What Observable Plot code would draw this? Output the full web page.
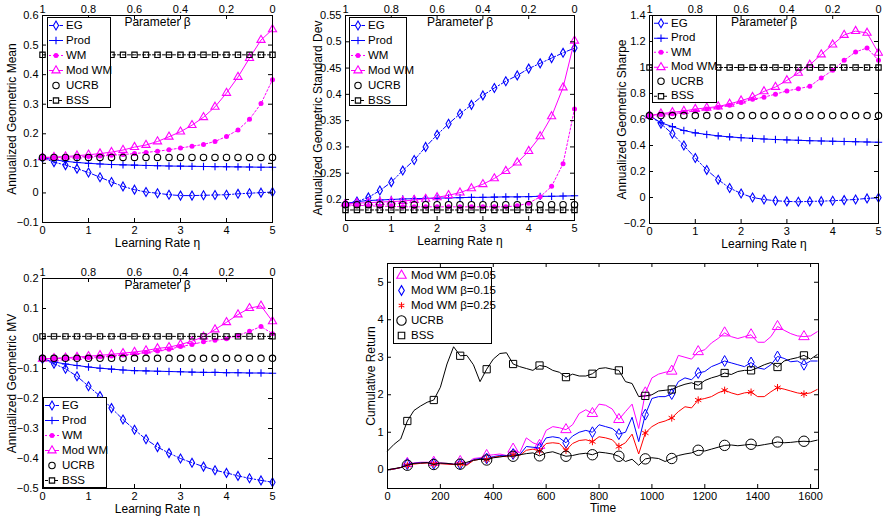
<!DOCTYPE html>
<html><head><meta charset="utf-8">
<script src="https://cdn.jsdelivr.net/npm/d3@7"></script>
<script src="https://cdn.jsdelivr.net/npm/@observablehq/plot@0.6"></script>
<style>
body{margin:0;background:#fff;font-family:"Liberation Sans",Arial,Helvetica,sans-serif;}
#root{position:relative;width:883px;height:517px;overflow:hidden;background:#fff;}
.panel{position:absolute;}
.legend{position:absolute;background:#fff;border:1px solid #000;box-sizing:border-box;font-size:11.5px;color:#000;line-height:1;}
.legend .row{display:flex;align-items:center;white-space:nowrap;}
.legend svg{flex:none;}
</style></head><body><div id="root"></div>
<script>
// ---------- data ----------
const eta = [0,0.25,0.5,0.75,1,1.25,1.5,1.75,2,2.25,2.5,2.75,3,3.25,3.5,3.75,4,4.25,4.5,4.75,5];
const etaTicks = [0,1,2,3,4,5];

// Annualized Geometric Mean
const meanEG    = [0.119,0.104,0.094,0.082,0.069,0.053,0.037,0.022,0.011,0.003,-0.001,-0.006,-0.009,-0.009,-0.008,-0.007,-0.006,-0.003,-0.001,0.001,0.003];
const meanProd  = [0.119,0.112,0.107,0.103,0.100,0.098,0.096,0.095,0.094,0.093,0.092,0.091,0.0905,0.090,0.0895,0.089,0.0885,0.088,0.0875,0.087,0.087];
const meanWM    = [0.12,0.12,0.121,0.122,0.123,0.125,0.127,0.13,0.133,0.137,0.141,0.146,0.152,0.158,0.164,0.174,0.191,0.213,0.249,0.302,0.383];
const meanModWM = [0.12,0.121,0.123,0.126,0.129,0.133,0.138,0.145,0.155,0.162,0.174,0.19,0.207,0.229,0.256,0.291,0.338,0.392,0.456,0.517,0.553];
const meanUCRB  = [0.12,0.12,0.12,0.12,0.12,0.12,0.12,0.12,0.12,0.12,0.12,0.12,0.12,0.12,0.12,0.12,0.12,0.12,0.12,0.12,0.12];
const meanBSS   = [0.467,0.467,0.467,0.467,0.467,0.467,0.467,0.467,0.467,0.467,0.467,0.467,0.467,0.467,0.467,0.467,0.467,0.467,0.467,0.467,0.467];
const meanTicks = [-0.1,0,0.1,0.2,0.3,0.4,0.5,0.6];

// Annualized Geometric Standard Dev
const sdEG    = [0.192,0.196,0.204,0.217,0.233,0.255,0.275,0.30,0.323,0.344,0.363,0.38,0.398,0.412,0.425,0.436,0.449,0.459,0.469,0.479,0.488];
const sdProd  = [0.192,0.196,0.198,0.199,0.200,0.201,0.2015,0.202,0.2025,0.203,0.2035,0.204,0.204,0.2045,0.205,0.205,0.2055,0.206,0.206,0.2065,0.207];
const sdWM    = [0.19,0.189,0.188,0.187,0.187,0.186,0.186,0.186,0.186,0.186,0.186,0.186,0.186,0.186,0.186,0.188,0.193,0.205,0.225,0.268,0.372];
const sdModWM = [0.192,0.193,0.194,0.195,0.196,0.197,0.199,0.201,0.204,0.208,0.213,0.221,0.229,0.24,0.254,0.27,0.292,0.32,0.358,0.413,0.502];
const sdUCRB  = [0.19,0.19,0.19,0.19,0.19,0.19,0.19,0.19,0.19,0.19,0.19,0.19,0.19,0.19,0.19,0.19,0.19,0.19,0.19,0.19,0.19];
const sdBSS   = [0.18,0.18,0.18,0.18,0.18,0.18,0.18,0.18,0.18,0.18,0.18,0.18,0.18,0.18,0.18,0.18,0.18,0.18,0.18,0.18,0.18];
const sdTicks = [0.2,0.25,0.3,0.35,0.4,0.45,0.5,0.55];

// Annualized Geometric Sharpe
const shEG    = [0.63,0.567,0.49,0.40,0.304,0.212,0.137,0.073,0.031,0.0,-0.015,-0.025,-0.03,-0.033,-0.03,-0.028,-0.025,-0.02,-0.015,-0.007,-0.002];
const shProd  = [0.63,0.575,0.545,0.515,0.497,0.485,0.474,0.466,0.46,0.455,0.45,0.446,0.443,0.44,0.437,0.435,0.433,0.431,0.429,0.427,0.425];
const shWM    = [0.63,0.64,0.645,0.655,0.665,0.68,0.695,0.71,0.731,0.755,0.772,0.795,0.82,0.837,0.855,0.92,0.978,1.055,1.12,1.15,1.055];
const shModWM = [0.63,0.645,0.655,0.665,0.68,0.69,0.70,0.72,0.745,0.772,0.816,0.85,0.901,0.958,1.02,1.10,1.176,1.25,1.28,1.266,1.112];
const shUCRB  = [0.63,0.63,0.63,0.63,0.63,0.63,0.63,0.63,0.63,0.63,0.63,0.63,0.63,0.63,0.63,0.63,0.63,0.63,0.63,0.63,0.63];
const shBSS   = [1.0,1.0,1.0,1.0,1.0,1.0,1.0,1.0,1.0,1.0,1.0,1.0,1.0,1.0,1.0,1.0,1.0,1.0,1.0,1.0,1.0];
const shTicks = [-0.2,0,0.2,0.4,0.6,0.8,1,1.2,1.4];

// Annualized Geometric MV
const mvEG    = [-0.068,-0.084,-0.101,-0.126,-0.159,-0.192,-0.232,-0.27,-0.304,-0.336,-0.362,-0.382,-0.4,-0.414,-0.427,-0.439,-0.448,-0.458,-0.466,-0.473,-0.479];
const mvProd  = [-0.068,-0.078,-0.085,-0.09,-0.095,-0.099,-0.102,-0.105,-0.107,-0.108,-0.109,-0.11,-0.111,-0.112,-0.113,-0.113,-0.114,-0.114,-0.115,-0.115,-0.116];
const mvWM    = [-0.068,-0.067,-0.066,-0.065,-0.063,-0.061,-0.058,-0.055,-0.052,-0.047,-0.042,-0.036,-0.027,-0.02,-0.011,-0.006,-0.001,0.01,0.024,0.04,0.016];
const mvModWM = [-0.068,-0.066,-0.064,-0.062,-0.059,-0.056,-0.053,-0.049,-0.045,-0.04,-0.033,-0.029,-0.02,-0.009,0.006,0.03,0.054,0.08,0.101,0.109,0.057];
const mvUCRB  = [-0.066,-0.066,-0.066,-0.066,-0.066,-0.066,-0.066,-0.066,-0.066,-0.066,-0.066,-0.066,-0.066,-0.066,-0.066,-0.066,-0.066,-0.066,-0.066,-0.066,-0.066];
const mvBSS   = [0.007,0.007,0.007,0.007,0.007,0.007,0.007,0.007,0.007,0.007,0.007,0.007,0.007,0.007,0.007,0.007,0.007,0.007,0.007,0.007,0.007];
const mvTicks = [-0.5,-0.4,-0.3,-0.2,-0.1,0,0.1,0.2];

// Cumulative return over time
const time = [0,25,50,75,100,125,150,175,200,225,250,275,300,325,350,375,400,425,450,475,500,525,550,575,600,625,650,675,700,725,750,775,800,825,850,875,900,925,950,975,1000,1025,1050,1075,1100,1125,1150,1175,1200,1225,1250,1275,1300,1325,1350,1375,1400,1425,1450,1475,1500,1525,1550,1575,1600,1625];
const crMod05 = [0,0.02,0.06,0.17,0.18,0.2,0.2,0.2,0.18,0.17,0.15,0.22,0.17,0.3,0.32,0.38,0.4,0.42,0.38,0.55,0.45,0.85,0.72,0.65,1.05,1.15,1.12,1.07,1.2,1.5,1.6,1.5,1.75,1.72,1.62,1.34,1.55,1.75,1.1,2.05,2.45,2.55,2.6,2.63,3.05,3.0,2.95,3.15,3.2,3.38,3.5,3.65,3.55,3.5,3.55,3.6,3.4,3.4,3.55,3.82,3.72,3.63,3.57,3.55,3.57,3.68];
const crMod15 = [0,0.02,0.06,0.15,0.17,0.18,0.19,0.16,0.17,0.16,0.14,0.15,0.14,0.27,0.3,0.3,0.35,0.38,0.37,0.42,0.4,0.62,0.6,0.58,0.85,0.88,0.85,0.72,0.9,1.0,1.05,1.0,1.2,1.15,1.1,0.95,1.0,1.4,0.75,1.47,1.9,1.95,1.95,2.02,2.35,2.45,2.4,2.58,2.62,2.75,2.82,2.9,2.85,2.8,2.75,2.86,2.72,2.68,2.8,3.02,2.97,2.88,2.9,2.8,2.9,2.9];
const crMod25 = [0,0.02,0.06,0.12,0.15,0.17,0.18,0.15,0.16,0.15,0.14,0.15,0.12,0.25,0.28,0.27,0.33,0.36,0.35,0.4,0.38,0.52,0.55,0.5,0.7,0.72,0.7,0.52,0.7,0.78,0.8,0.75,0.88,0.85,0.8,0.62,0.72,0.95,0.42,0.98,1.15,1.25,1.3,1.38,1.55,1.68,1.65,1.86,1.9,1.95,2.05,2.12,2.05,2.0,2.05,2.07,1.95,1.95,2.08,2.19,2.15,2.1,2.05,2.02,2.05,2.14];
const crUCRB  = [0,0.03,0.06,0.12,0.17,0.18,0.19,0.14,0.18,0.17,0.15,0.15,0.2,0.25,0.28,0.26,0.32,0.34,0.37,0.36,0.4,0.43,0.45,0.37,0.45,0.48,0.42,0.36,0.38,0.42,0.44,0.4,0.47,0.45,0.42,0.36,0.22,0.28,0.12,0.29,0.32,0.3,0.22,0.3,0.38,0.42,0.45,0.52,0.5,0.55,0.6,0.65,0.66,0.64,0.66,0.68,0.64,0.67,0.7,0.74,0.72,0.73,0.75,0.76,0.75,0.79];
const crBSS   = [0.5,0.68,0.82,1.3,1.58,1.7,1.8,1.86,2.2,2.82,3.28,3.04,3.05,2.8,2.35,2.68,2.95,3.1,3.12,2.82,2.75,2.7,2.65,2.78,2.75,2.65,2.6,2.47,2.55,2.5,2.5,2.56,2.7,2.72,2.68,2.65,2.35,2.3,1.95,1.97,2.0,2.1,2.12,2.14,2.22,2.28,2.32,2.25,2.38,2.45,2.5,2.58,2.54,2.62,2.65,2.65,2.72,2.8,2.86,2.74,2.9,2.95,2.99,3.05,2.95,3.07];
const crXTicks = [0,200,400,600,800,1000,1200,1400,1600];
const crYTicks = [0,1,2,3,4,5];

// ---------- helpers ----------
const BLUE = "#0000ff", MAG = "#ff00ff", RED = "#ff0000", BLK = "#000000";
const FONT = '"Liberation Sans", Arial, Helvetica, sans-serif';
const fmt = d => String(Math.round(d * 1000) / 1000).replace("-", "\u2212");
const rowsOf = (xs, vs) => xs.map((x, i) => ({x, v: vs[i]}));

const etaSeries = [
  {name: "EG", color: BLUE, dash: "5,2,1.5,2", line: true, symbol: "diamond", r: 2.7, fill: "none"},
  {name: "Prod", color: BLUE, dash: null, line: true, symbol: "plus", r: 2.5, fill: "none"},
  {name: "WM", color: MAG, dash: "2,2", line: true, symbol: "circle", r: 2.5, fill: MAG},
  {name: "Mod WM", color: MAG, dash: null, line: true, symbol: "triangle2", r: 3.9, fill: "none"},
  {name: "UCRB", color: BLK, dash: null, line: false, symbol: "circle", r: 3.2, fill: "none"},
  {name: "BSS", color: BLK, dash: "3,2", line: true, symbol: "square2", r: 3.4, fill: "none"}
];

function seriesMarks(xs, arrays, defs) {
  const marks = [];
  defs.forEach((s, k) => {
    const rows = rowsOf(xs, arrays[k]);
    if (s.line) marks.push(Plot.line(rows, {x: "x", y: "v", stroke: s.color, strokeWidth: 1, strokeDasharray: s.dash || undefined}));
    marks.push(Plot.dot(rows, {x: "x", y: "v", symbol: s.symbol, r: s.r, stroke: s.fill === "none" ? s.color : "none", fill: s.fill, strokeWidth: 1.1}));
  });
  return marks;
}

function mkPanel(cfg) {
  const fw = cfg.width - cfg.ml - cfg.mr, fh = cfg.height - cfg.mt - cfg.mb, tk = 4;
  const marks = [...cfg.marks,
    Plot.ruleX(cfg.xTicks, {x: d => d, insetTop: fh - tk, stroke: BLK}),
    Plot.ruleX(cfg.xTicks, {x: d => d, insetBottom: fh - tk, stroke: BLK}),
    Plot.ruleY(cfg.yTicks, {y: d => d, insetRight: fw - tk, stroke: BLK}),
    Plot.ruleY(cfg.yTicks, {y: d => d, insetLeft: fw - tk, stroke: BLK}),
    Plot.frame({stroke: BLK, strokeWidth: 1}),
    Plot.axisX(cfg.xTicks, {anchor: "bottom", tickSize: 0, tickPadding: 4, tickFormat: fmt, label: null}),
    Plot.axisY(cfg.yTicks, {anchor: "left", tickSize: 0, tickPadding: 4, tickFormat: fmt, label: null}),
    Plot.text([cfg.xlabel], {text: d => d, frameAnchor: "bottom", textAnchor: "middle", lineAnchor: "middle", dy: cfg.xlabelDy, fontSize: 12}),
    Plot.text([cfg.ylabel], {text: d => d, frameAnchor: "left", textAnchor: "middle", lineAnchor: "middle", rotate: -90, dx: cfg.ylabelDx, fontSize: 12})
  ];
  if (cfg.beta) {
    marks.push(Plot.axisX(cfg.xTicks, {anchor: "top", tickSize: 0, tickPadding: 3, tickFormat: d => fmt(1 - d / 5), label: null}));
    marks.push(Plot.text(["Parameter \u03b2"], {text: d => d, frameAnchor: "top", textAnchor: "middle", lineAnchor: "middle", dy: 7, fontSize: 12}));
  }
  const svg = Plot.plot({
    width: cfg.width, height: cfg.height,
    marginLeft: cfg.ml, marginRight: cfg.mr, marginTop: cfg.mt, marginBottom: cfg.mb,
    x: {domain: cfg.xDomain}, y: {domain: cfg.yDomain},
    style: {fontFamily: FONT, fontSize: "11px", background: "transparent", color: "#000", overflow: "visible"},
    marks
  });
  const div = document.createElement("div");
  div.className = "panel";
  div.style.left = cfg.left + "px"; div.style.top = cfg.top + "px";
  div.appendChild(svg);
  document.getElementById("root").appendChild(div);
}

const symMap = {diamond: d3.symbolDiamond, plus: d3.symbolPlus, circle: d3.symbolCircle, triangle2: d3.symbolTriangle2, square2: d3.symbolSquare2, asterisk: d3.symbolAsterisk};
function mkLegend(cfg) {
  const box = document.createElement("div");
  box.className = "legend";
  Object.assign(box.style, {left: cfg.left + "px", top: cfg.top + "px", width: cfg.width + "px", height: cfg.height + "px", paddingTop: (cfg.padTop || 0) + "px"});
  cfg.entries.forEach(s => {
    const row = document.createElement("div");
    row.className = "row";
    row.style.height = cfg.rowH + "px";
    const sw = cfg.sw, h = cfg.rowH;
    const svg = d3.create("svg").attr("width", sw + 2).attr("height", h).style("margin-left", (cfg.padLeft || 1) + "px");
    if (s.line && cfg.showLines) svg.append("line").attr("x1", 0).attr("x2", sw).attr("y1", h / 2).attr("y2", h / 2)
      .attr("stroke", s.color).attr("stroke-dasharray", s.dash || null).attr("stroke-width", 1);
    const rr = s.lr || s.r;
    svg.append("path").attr("transform", `translate(${sw / 2},${h / 2})`)
      .attr("d", d3.symbol(symMap[s.symbol], Math.PI * rr * rr)())
      .attr("fill", s.fill === "none" ? "#fff" : s.fill).attr("stroke", s.fill === "none" ? s.color : "none").attr("stroke-width", 1.1);
    row.appendChild(svg.node());
    const t = document.createElement("span");
    t.textContent = s.name;
    t.style.marginLeft = (cfg.gap || 1) + "px";
    row.appendChild(t);
    box.appendChild(row);
  });
  document.getElementById("root").appendChild(box);
}

// ---------- panels ----------
mkPanel({left: 0, top: 0, width: 290, height: 250, ml: 42, mr: 18, mt: 15, mb: 28,
  xDomain: [0, 5], yDomain: [-0.1, 0.6], xTicks: etaTicks, yTicks: meanTicks, beta: true,
  xlabel: "Learning Rate \u03b7", xlabelDy: 21, ylabel: "Annualized Geometric Mean", ylabelDx: -30,
  marks: seriesMarks(eta, [meanEG, meanProd, meanWM, meanModWM, meanUCRB, meanBSS], etaSeries)});

mkPanel({left: 290, top: 0, width: 300, height: 250, ml: 55, mr: 16, mt: 15, mb: 30,
  xDomain: [0, 5], yDomain: [0.16, 0.55], xTicks: etaTicks, yTicks: sdTicks, beta: true,
  xlabel: "Learning Rate \u03b7", xlabelDy: 21, ylabel: "Annualized Geometric Standard Dev", ylabelDx: -27,
  marks: seriesMarks(eta, [sdEG, sdProd, sdWM, sdModWM, sdUCRB, sdBSS], etaSeries)});

mkPanel({left: 590, top: 0, width: 293, height: 250, ml: 59, mr: 5, mt: 15, mb: 27,
  xDomain: [0, 5], yDomain: [-0.2, 1.4], xTicks: etaTicks, yTicks: shTicks, beta: true,
  xlabel: "Learning Rate \u03b7", xlabelDy: 21, ylabel: "Annualized Geometric Sharpe", ylabelDx: -27,
  marks: seriesMarks(eta, [shEG, shProd, shWM, shModWM, shUCRB, shBSS], etaSeries)});

mkPanel({left: 0, top: 250, width: 290, height: 267, ml: 42, mr: 18, mt: 28, mb: 29,
  xDomain: [0, 5], yDomain: [-0.5, 0.2], xTicks: etaTicks, yTicks: mvTicks, beta: true,
  xlabel: "Learning Rate \u03b7", xlabelDy: 21, ylabel: "Annualized Geometric MV", ylabelDx: -30,
  marks: seriesMarks(eta, [mvEG, mvProd, mvWM, mvModWM, mvUCRB, mvBSS], etaSeries)});

const crSeries = [
  {name: "Mod WM \u03b2=0.05", color: MAG, symbol: "triangle2", r: 5.0, fill: "none", arr: crMod05},
  {name: "Mod WM \u03b2=0.15", color: BLUE, symbol: "diamond", r: 3.3, fill: "none", arr: crMod15},
  {name: "Mod WM \u03b2=0.25", color: RED, symbol: "asterisk", r: 3.4, fill: "none", arr: crMod25},
  {name: "UCRB", color: BLK, symbol: "circle", r: 5.2, fill: "none", arr: crUCRB},
  {name: "BSS", color: BLK, symbol: "square2", r: 4.6, fill: "none", arr: crBSS}
];
const crMarks = [];
crSeries.forEach(s => {
  const rows = rowsOf(time, s.arr);
  crMarks.push(Plot.line(rows, {x: "x", y: "v", stroke: s.color, strokeWidth: 1}));
  crMarks.push(Plot.dot(rows.filter(d => d.x % 100 === 75), {x: "x", y: "v", symbol: s.symbol, r: s.r, stroke: s.color, fill: "none", strokeWidth: 1}));
});
mkPanel({left: 340, top: 250, width: 543, height: 267, ml: 47, mr: 65, mt: 13, mb: 29,
  xDomain: [0, 1630], yDomain: [-0.5, 5.5], xTicks: crXTicks, yTicks: crYTicks, beta: false,
  xlabel: "Time", xlabelDy: 20, ylabel: "Cumulative Return", ylabelDx: -16,
  marks: crMarks});

// ---------- legends ----------
mkLegend({left: 47, top: 17, width: 64, height: 91, rowH: 15, sw: 14, showLines: true, entries: etaSeries});
mkLegend({left: 349, top: 17, width: 58, height: 89, rowH: 15, sw: 14, showLines: true, entries: etaSeries});
mkLegend({left: 652, top: 15, width: 65, height: 88, rowH: 14.5, sw: 14, showLines: true, entries: etaSeries});
mkLegend({left: 43, top: 397, width: 64, height: 91, rowH: 15, sw: 14, showLines: true, entries: etaSeries});
mkLegend({left: 393, top: 267, width: 99, height: 77, rowH: 15, sw: 13, showLines: false, padLeft: 1, gap: 1,
  entries: crSeries.map(s => ({...s, lr: s.r * 0.9}))});
</script>
</body></html>
